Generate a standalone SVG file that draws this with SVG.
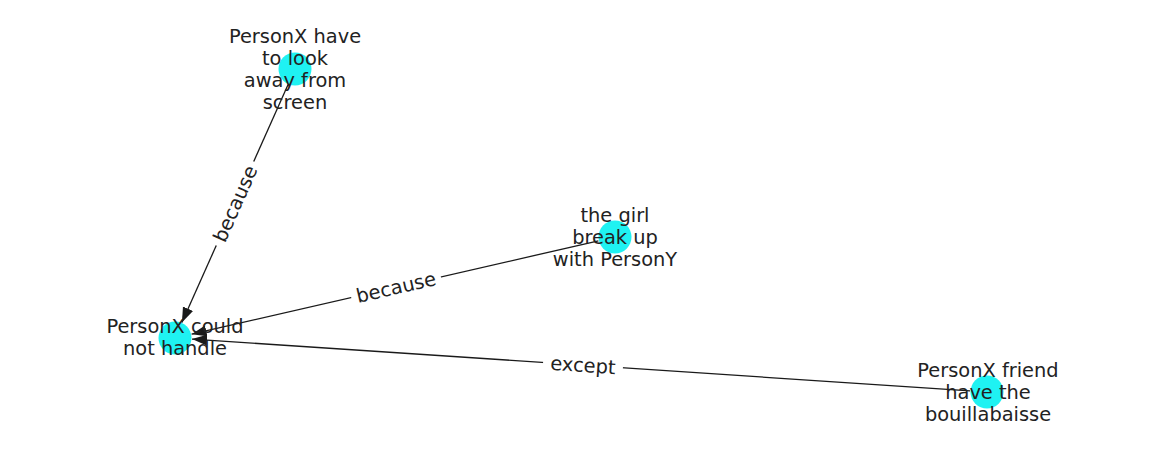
<svg xmlns="http://www.w3.org/2000/svg" width="1162" height="462" viewBox="0 0 1162 462">
<style>
.edge{stroke:#1a1a1a;stroke-width:1.3;fill:none}
.node{fill:#1ff2f2}
.lbl{font-family:"DejaVu Sans","Liberation Sans",sans-serif;font-size:19.4px;fill:#222;text-anchor:middle}
.bg{fill:#fff}
</style>
<defs>
<marker id="arr" markerUnits="userSpaceOnUse" markerWidth="16" markerHeight="12" refX="15" refY="5.5" orient="auto" viewBox="0 0 16 12">
<path d="M0,0 L15,5.5 L0,11 z" fill="#1a1a1a"/>
</marker>
</defs>
<rect width="1162" height="462" fill="#fff"/>
<g id="connectors">
<line class="edge" x1="288.1" y1="84.5" x2="181.9" y2="322.5" marker-end="url(#arr)"/>
<line class="edge" x1="598.4" y1="240.8" x2="191.6" y2="334.2" marker-end="url(#arr)"/>
<line class="edge" x1="970" y1="390.9" x2="192" y2="339.1" marker-end="url(#arr)"/>
<g transform="translate(235,203.5) rotate(-65.96)">
<rect class="bg" x="-46" y="-14" width="92" height="28" rx="4"/>
<text class="lbl" x="0" y="7">because</text>
</g>
<g transform="translate(396,287) rotate(-12.93)">
<rect class="bg" x="-46" y="-14" width="92" height="28" rx="4"/>
<text class="lbl" x="0" y="7">because</text>
</g>
<g transform="translate(583,365) rotate(3.8)">
<rect class="bg" x="-40" y="-14" width="80" height="28" rx="4"/>
<text class="lbl" x="0" y="7">except</text>
</g>
</g>
<g id="node-have-to-look">
<circle class="node" cx="295" cy="69" r="16.5"/>
<text class="lbl" x="295" y="42.5">PersonX have</text>
<text class="lbl" x="295" y="64.5">to look</text>
<text class="lbl" x="295" y="86.5">away from</text>
<text class="lbl" x="295" y="108.5">screen</text>
</g>
<g id="node-girl">
<circle class="node" cx="615" cy="237" r="16.5"/>
<text class="lbl" x="615" y="221.5">the girl</text>
<text class="lbl" x="615" y="243.5">break up</text>
<text class="lbl" x="615" y="265.5">with PersonY</text>
</g>
<g id="node-could-not-handle">
<circle class="node" cx="175" cy="338" r="16.5"/>
<text class="lbl" x="175" y="332.5">PersonX could</text>
<text class="lbl" x="175" y="354.5">not handle</text>
</g>
<g id="node-friend">
<circle class="node" cx="987" cy="392" r="16.5"/>
<text class="lbl" x="988" y="376.5">PersonX friend</text>
<text class="lbl" x="988" y="398.5">have the</text>
<text class="lbl" x="988" y="420.5">bouillabaisse</text>
</g>
</svg>
